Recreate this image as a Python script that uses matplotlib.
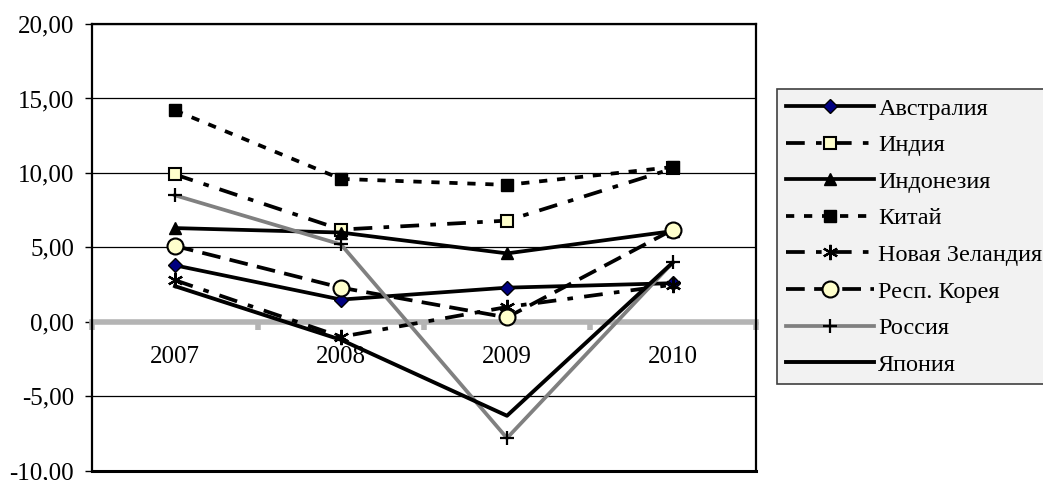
import matplotlib.pyplot as plt
import numpy as np

plt.rcParams['font.family'] = ['Liberation Serif', 'DejaVu Serif']

years = ['2007', '2008', '2009', '2010']

australia = [3.8, 1.5, 2.3, 2.6]
india = [9.9, 6.2, 6.8, 10.3]
indonesia = [6.3, 6.0, 4.6, 6.1]
china = [14.2, 9.6, 9.2, 10.4]
new_zealand = [2.8, -1.0, 1.0, 2.5]
korea = [5.1, 2.3, 0.3, 6.2]
russia = [8.5, 5.2, -7.8, 4.0]
japan = [2.4, -1.2, -6.3, 4.0]

x = np.arange(1, len(years) + 1)

fig = plt.figure(figsize=(10.43, 4.8), dpi=100)
ax = fig.add_axes([0.0882, 0.019, 0.6366, 0.931])

lw = 2.7
pale = '#ffffcc'

ax.plot(x, australia, color='black', lw=lw, marker='D', ms=7, mfc='#000080', mec='black', mew=1, label='Австралия')
ax.plot(x, india, color='black', lw=lw, dashes=(5, 3, 1.5, 3), marker='s', ms=9, mfc=pale, mec='black', mew=1.5, label='Индия')
ax.plot(x, indonesia, color='black', lw=lw, marker='^', ms=9, mfc='black', mec='black', label='Индонезия')
ax.plot(x, china, color='black', lw=lw, dashes=(2.2, 2.6), marker='s', ms=9, mfc='black', mec='black', label='Китай')
ax.plot(x, new_zealand, color='black', lw=lw, dashes=(5, 3, 1.5, 3), marker=(6, 2, 0), ms=11, mec='black', mew=1.6, label='Новая Зеландия')
ax.plot(x, korea, color='black', lw=lw, dashes=(5, 2.5), marker='o', ms=11.5, mfc=pale, mec='black', mew=1.5, label='Респ. Корея')
ax.plot(x, russia, color='#808080', lw=lw, marker='+', ms=10, mec='black', mew=1.6, label='Россия')
ax.plot(x, japan, color='black', lw=2.8, label='Япония')

ax.set_xlim(0.5, 4.5)
ax.set_ylim(-10, 20)
ax.set_yticks(np.arange(-10, 21, 5))
ax.set_yticklabels([f'{v:.2f}'.replace('.', ',') for v in np.arange(-10, 21, 5)])
ax.yaxis.grid(True, color='black', lw=0.9)
ax.set_axisbelow(True)

# category axis crosses at zero
ax.spines['bottom'].set_position(('data', 0))
ax.spines['bottom'].set_color('#b4b4b4')
ax.spines['bottom'].set_linewidth(4)
ax.spines['bottom'].set_zorder(1.5)
for side in ['left', 'right', 'top']:
    ax.spines[side].set_linewidth(1.6)
ax.plot([0, 1], [0, 0], transform=ax.transAxes, color='black', lw=2.2, clip_on=False)

ax.set_xticks(x)
ax.set_xticklabels(years)
ax.set_xticks(np.arange(0.5, 4.6, 1), minor=True)
ax.tick_params(axis='x', which='major', length=0, pad=17, labelsize=18)
ax.tick_params(axis='x', which='minor', length=6, width=4, color='#b4b4b4', direction='out')
ax.tick_params(axis='y', length=5, width=1, pad=8, labelsize=18)

leg = ax.legend(loc='upper left', bbox_to_anchor=(777 / 1043, 1 - 89 / 480), bbox_transform=fig.transFigure,
                fontsize=17.5, handlelength=3.65, handletextpad=0.17, labelspacing=0.6,
                borderpad=0.35, borderaxespad=0, fancybox=False, framealpha=1)
leg.get_frame().set_facecolor('#f2f2f2')
leg.get_frame().set_edgecolor('#404040')
leg.get_frame().set_linewidth(1.2)

plt.savefig('out.png', dpi=100)
